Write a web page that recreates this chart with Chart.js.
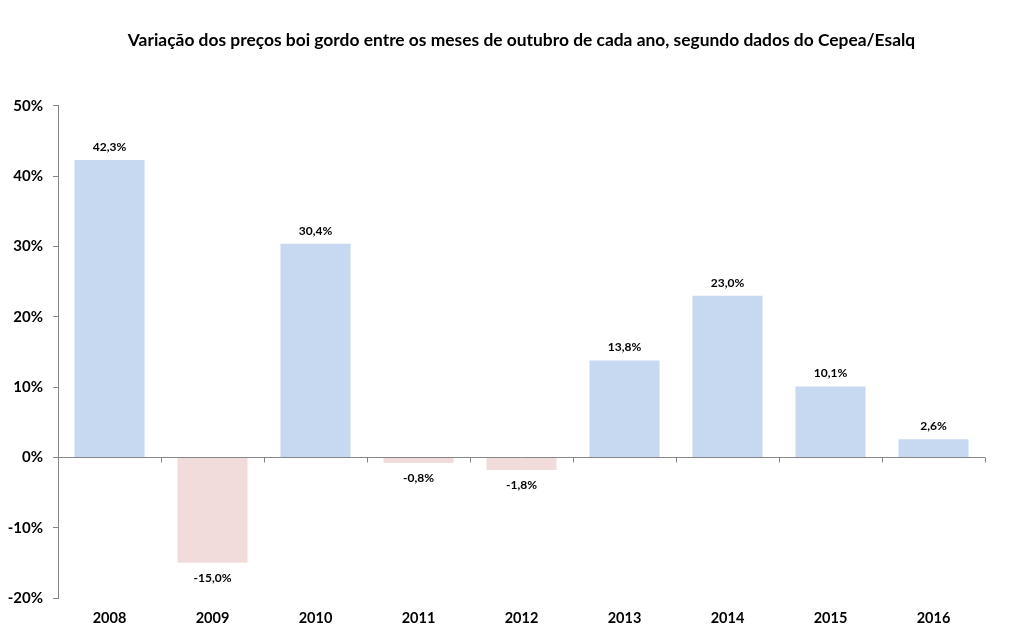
<!DOCTYPE html>
<html>
<head>
<meta charset="utf-8">
<script src="https://cdn.jsdelivr.net/npm/chart.js@4"></script>
<style>
  html, body { margin: 0; padding: 0; background: #fff; }
  #wrap { width: 1013px; height: 632px; }
</style>
</head>
<body>
<div id="wrap"><canvas id="chart" width="1013" height="632"></canvas></div>
<script>
const years = ['2008', '2009', '2010', '2011', '2012', '2013', '2014', '2015', '2016'];
const variation = [42.3, -15.0, 30.4, -0.8, -1.8, 13.8, 23.0, 10.1, 2.6];
const yTicks = [-20, -10, 0, 10, 20, 30, 40, 50];

const fmt = v => v.toFixed(1).replace('.', ',') + '%';
const axisGray = '#868686';

// zero line plus the little tick marks between categories
const zeroLine = {
    id: 'zeroLine',
    afterDatasetsDraw(chart) {
        const { ctx, chartArea, scales: { x, y } } = chart;
        const y0 = Math.round(y.getPixelForValue(0)) + 0.5;
        ctx.save();
        ctx.strokeStyle = axisGray;
        ctx.lineWidth = 1;
        ctx.beginPath();
        ctx.moveTo(chartArea.left, y0);
        ctx.lineTo(chartArea.right, y0);
        const step = (chartArea.right - chartArea.left) / years.length;
        for (let i = 1; i <= years.length; i++) {
            const px = Math.round(chartArea.left + i * step) + 0.5;
            ctx.moveTo(px, y0);
            ctx.lineTo(px, y0 + 5);
        }
        ctx.stroke();
        ctx.restore();
    }
};

// value labels above / below each bar
const barLabels = {
    id: 'barLabels',
    afterDatasetsDraw(chart) {
        const { ctx } = chart;
        const meta = chart.getDatasetMeta(0);
        ctx.save();
        ctx.font = 'bold 12px Lato';
        ctx.fillStyle = '#000';
        ctx.textAlign = 'center';
        ctx.textBaseline = 'middle';
        meta.data.forEach((bar, i) => {
            const v = variation[i];
            const ty = v >= 0 ? bar.y - 13 : bar.y + 15;
            ctx.fillText(fmt(v), bar.x, ty);
        });
        ctx.restore();
    }
};

new Chart(document.getElementById('chart').getContext('2d'), {
    type: 'bar',
    data: {
        labels: years,
        datasets: [{
            data: variation,
            backgroundColor: variation.map(v => v >= 0 ? '#c6d9f1' : '#f2dcdb'),
            borderWidth: 0,
            categoryPercentage: 1,
            barPercentage: 0.68
        }]
    },
    options: {
        responsive: false,
        animation: false,
        layout: { padding: { top: 0, right: 28, bottom: 0, left: 0 } },
        plugins: {
            legend: { display: false },
            tooltip: { enabled: false },
            title: {
                display: true,
                fullSize: false,
                text: 'Variação dos preços boi gordo entre os meses de outubro de cada ano, segundo dados do Cepea/Esalq',
                color: '#000',
                font: { family: 'Lato', size: 17.4, weight: 'bold', lineHeight: 1.2 },
                padding: { top: 30, bottom: 55.1 }
            }
        },
        scales: {
            x: {
                border: { display: false },
                grid: { display: false },
                ticks: {
                    color: '#000',
                    font: { family: 'Lato', size: 14.5, weight: 'bold' },
                    padding: 4
                },
                afterFit(scale) { scale.height = 34; }
            },
            y: {
                min: -20,
                max: 50,
                border: { display: true, color: axisGray },
                grid: {
                    drawOnChartArea: false,
                    drawTicks: true,
                    tickLength: 5,
                    tickColor: axisGray
                },
                afterBuildTicks(scale) {
                    scale.ticks = yTicks.map(v => ({ value: v }));
                },
                ticks: {
                    color: '#000',
                    font: { family: 'Lato', size: 15, weight: 'bold' },
                    padding: 10,
                    callback: v => v + '%'
                },
                afterFit(scale) { scale.width = 58; }
            }
        }
    },
    plugins: [zeroLine, barLabels]
});
</script>
</body>
</html>
